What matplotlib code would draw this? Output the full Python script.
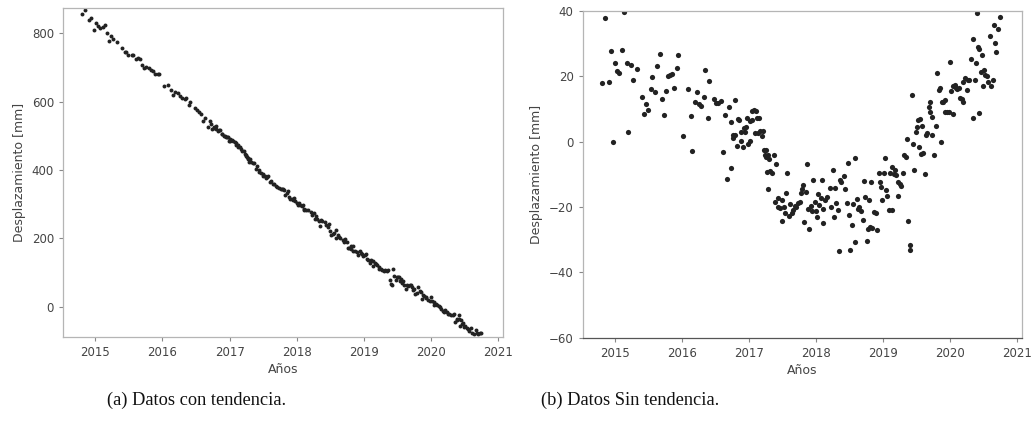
import matplotlib.pyplot as plt
import numpy as np

# fechas de adquisición (año decimal) y desplazamiento sin tendencia [mm]
anios = [
    2014.81, 2014.85, 2014.91, 2014.94, 2014.98, 2015.01, 2015.04, 2015.07, 2015.11, 2015.14,
    2015.18, 2015.20, 2015.24, 2015.27, 2015.33, 2015.40, 2015.44, 2015.46, 2015.49, 2015.54,
    2015.56, 2015.60, 2015.63, 2015.67, 2015.70, 2015.73, 2015.76, 2015.80, 2015.83, 2015.86,
    2015.89, 2015.93, 2015.95, 2016.02, 2016.09, 2016.13, 2016.15, 2016.19, 2016.23, 2016.26,
    2016.29, 2016.33, 2016.35, 2016.39, 2016.41, 2016.48, 2016.51, 2016.54, 2016.58, 2016.61,
    2016.64, 2016.68, 2016.71, 2016.73, 2016.74, 2016.76, 2016.77, 2016.79, 2016.80, 2016.82,
    2016.84, 2016.85, 2016.88, 2016.89, 2016.91, 2016.93, 2016.95, 2016.96, 2016.98, 2016.99,
    2017.01, 2017.01, 2017.04, 2017.05, 2017.08, 2017.10, 2017.09, 2017.12, 2017.13, 2017.15,
    2017.17, 2017.19, 2017.21, 2017.23, 2017.25, 2017.24, 2017.26, 2017.28, 2017.29, 2017.30,
    2017.27, 2017.32, 2017.35, 2017.37, 2017.41, 2017.43, 2017.39, 2017.44, 2017.46, 2017.49,
    2017.50, 2017.52, 2017.54, 2017.56, 2017.57, 2017.60, 2017.62, 2017.64, 2017.66, 2017.69,
    2017.71, 2017.74, 2017.76, 2017.78, 2017.79, 2017.81, 2017.83, 2017.85, 2017.87, 2017.89,
    2017.90, 2017.93, 2017.94, 2017.96, 2017.98, 2018.00, 2018.02, 2018.03, 2018.05, 2018.07,
    2018.09, 2018.10, 2018.11, 2018.14, 2018.16, 2018.21, 2018.23, 2018.25, 2018.27, 2018.28,
    2018.30, 2018.33, 2018.34, 2018.36, 2018.38, 2018.42, 2018.44, 2018.46, 2018.48, 2018.50,
    2018.51, 2018.54, 2018.56, 2018.58, 2018.59, 2018.61, 2018.63, 2018.65, 2018.68, 2018.70,
    2018.72, 2018.74, 2018.76, 2018.78, 2018.80, 2018.81, 2018.83, 2018.84, 2018.87, 2018.89,
    2018.91, 2018.94, 2018.96, 2018.97, 2018.99, 2019.01, 2019.03, 2019.05, 2019.06, 2019.09,
    2019.11, 2019.13, 2019.14, 2019.16, 2019.18, 2019.20, 2019.22, 2019.23, 2019.26, 2019.27,
    2019.30, 2019.32, 2019.34, 2019.36, 2019.38, 2019.40, 2019.41, 2019.43, 2019.45, 2019.47,
    2019.49, 2019.51, 2019.52, 2019.54, 2019.55, 2019.57, 2019.58, 2019.60, 2019.63, 2019.64,
    2019.66, 2019.69, 2019.70, 2019.71, 2019.73, 2019.74, 2019.76, 2019.79, 2019.80, 2019.83,
    2019.85, 2019.87, 2019.88, 2019.90, 2019.92, 2019.92, 2019.95, 2019.98, 2020.00, 2020.01,
    2020.04, 2020.04, 2020.07, 2020.09, 2020.11, 2020.13, 2020.15, 2020.18, 2020.19, 2020.20,
    2020.23, 2020.25, 2020.27, 2020.29, 2020.32, 2020.34, 2020.35, 2020.38, 2020.39, 2020.41,
    2020.42, 2020.43, 2020.44, 2020.46, 2020.48, 2020.49, 2020.51, 2020.53, 2020.55, 2020.57,
    2020.60, 2020.61, 2020.64, 2020.66, 2020.68, 2020.69, 2020.72, 2020.74,
]

sin_tendencia = [
    18.1, 37.9, 18.4, 27.9, 0.0, 24.2, 21.7, 21.2, 28.1, 39.8,
    24.1, 3.0, 23.6, 18.9, 22.3, 13.8, 8.4, 11.5, 9.8, 16.0,
    19.9, 15.3, 23.3, 27.0, 13.0, 8.1, 15.6, 20.2, 20.3, 20.7,
    16.4, 22.7, 26.5, 1.9, 16.1, 7.9, -2.7, 12.1, 15.2, 11.7,
    10.8, 13.8, 21.9, 7.3, 18.7, 13.2, 12.0, 11.9, 12.4, -3.1,
    8.2, -11.4, 10.7, 6.0, -8.0, 1.3, 2.1, 2.0, 12.8, -1.2,
    7.0, 6.6, 0.1, 3.1, -1.5, 4.2, 3.1, 4.6, 7.4, -0.7,
    0.3, 6.4, 9.3, 6.6, 9.7, 9.3, 2.8, 7.3, 2.6, 7.3,
    3.4, 1.7, 3.3, -2.4, -2.6, -4.1, -4.6, -4.2, -14.5, -5.4,
    -9.2, -8.9, -9.5, -4.1, -6.8, -17.1, -18.5, -19.9, -20.4, -24.3,
    -17.7, -20.1, -21.9, -15.6, -9.7, -22.8, -19.1, -21.9, -20.9, -19.6,
    -19.9, -18.6, -18.4, -15.8, -14.6, -13.1, -24.5, -15.3, -6.9, -20.7,
    -26.6, -19.7, -21.1, -11.7, -18.4, -21.1, -23.0, -16.1, -19.2, -17.2,
    -11.8, -24.8, -20.5, -17.7, -16.8, -14.1, -19.9, -8.7, -23.1, -14.0,
    -18.7, -20.9, -33.4, -11.7, -12.2, -10.5, -14.5, -18.7, -6.4, -22.4,
    -33.2, -25.4, -18.9, -30.8, -5.1, -17.6, -20.6, -19.9, -21.3, -23.8,
    -12.0, -17.0, -30.5, -26.6, -17.9, -26.0, -12.2, -26.5, -21.6, -21.9,
    -27.0, -9.7, -12.2, -13.8, -17.9, -9.7, -5.1, -14.8, -16.6, -20.9,
    -9.7, -7.7, -20.9, -10.0, -8.5, -10.2, -12.2, -16.6, -12.8, -13.6,
    -9.7, -3.9, -4.6, 0.7, -24.3, -31.6, -33.2, 14.3, -0.7, -8.7,
    3.1, 4.6, 6.8, -1.5, 7.0, -3.6, 4.8, -3.4, -9.9, 2.2,
    2.6, 10.7, 12.2, 9.0, 2.0, 7.7, -4.2, 4.8, 21.1, 15.8,
    16.4, 0.0, 12.2, 12.1, 12.8, 9.2, 9.1, 9.1, 24.5, 15.6,
    8.4, 17.0, 17.3, 16.6, 16.3, 16.6, 13.3, 13.1, 12.2, 18.4,
    19.4, 15.8, 18.9, 18.9, 25.2, 31.6, 7.3, 18.9, 24.0, 39.3,
    29.1, 8.7, 28.3, 21.5, 26.5, 17.2, 21.9, 20.4, 20.1, 18.4,
    32.3, 17.0, 18.9, 35.7, 30.3, 27.6, 34.4, 38.1,
]

# tendencia lineal del desplazamiento acumulado
anio_ref = 2014.85
desplazamiento_ref = 830.0   # mm
velocidad = -160.5           # mm/año

anios = np.array(anios)
sin_tendencia = np.array(sin_tendencia)
con_tendencia = desplazamiento_ref + velocidad * (anios - anio_ref) + sin_tendencia

gris = '#444444'
borde = '#b5b5b5'

fig = plt.figure(figsize=(10.33, 4.26), dpi=100)
ax1 = fig.add_axes([0.061, 0.209, 0.426, 0.772])
ax2 = fig.add_axes([0.564, 0.207, 0.425, 0.767])

ax1.scatter(anios, con_tendencia, s=8, color='#222222', linewidths=0)
ax2.scatter(anios, sin_tendencia, s=14, color='#222222', linewidths=0)

ax1.set_ylim(-88, 873)
ax1.set_yticks([0, 200, 400, 600, 800])
ax2.set_ylim(-60, 40)
ax2.set_yticks([-60, -40, -20, 0, 20, 40])

for ax in (ax1, ax2):
    ax.set_xlim(2014.52, 2021.07)
    ax.set_xticks(range(2015, 2022))
    ax.set_xlabel('Años', fontsize=9, color=gris, labelpad=3)
    ax.set_ylabel('Desplazamiento [mm]', fontsize=9, color=gris, labelpad=4)
    ax.tick_params(labelsize=8.5, colors=gris, length=3, width=0.8, color='#888888')
    for s in ax.spines.values():
        s.set_color(borde)
        s.set_linewidth(0.9)
ax2.spines['bottom'].set_color('#555555')

# pies de figura
fig.text(107 / 1033, 1 - 400 / 426, '(a) Datos con tendencia.', fontsize=13.2,
         family='Liberation Serif', va='center', ha='left', color='#111111')
fig.text(541 / 1033, 1 - 400 / 426, '(b) Datos Sin tendencia.', fontsize=13.2,
         family='Liberation Serif', va='center', ha='left', color='#111111')

fig.savefig('out.png', dpi=100)
